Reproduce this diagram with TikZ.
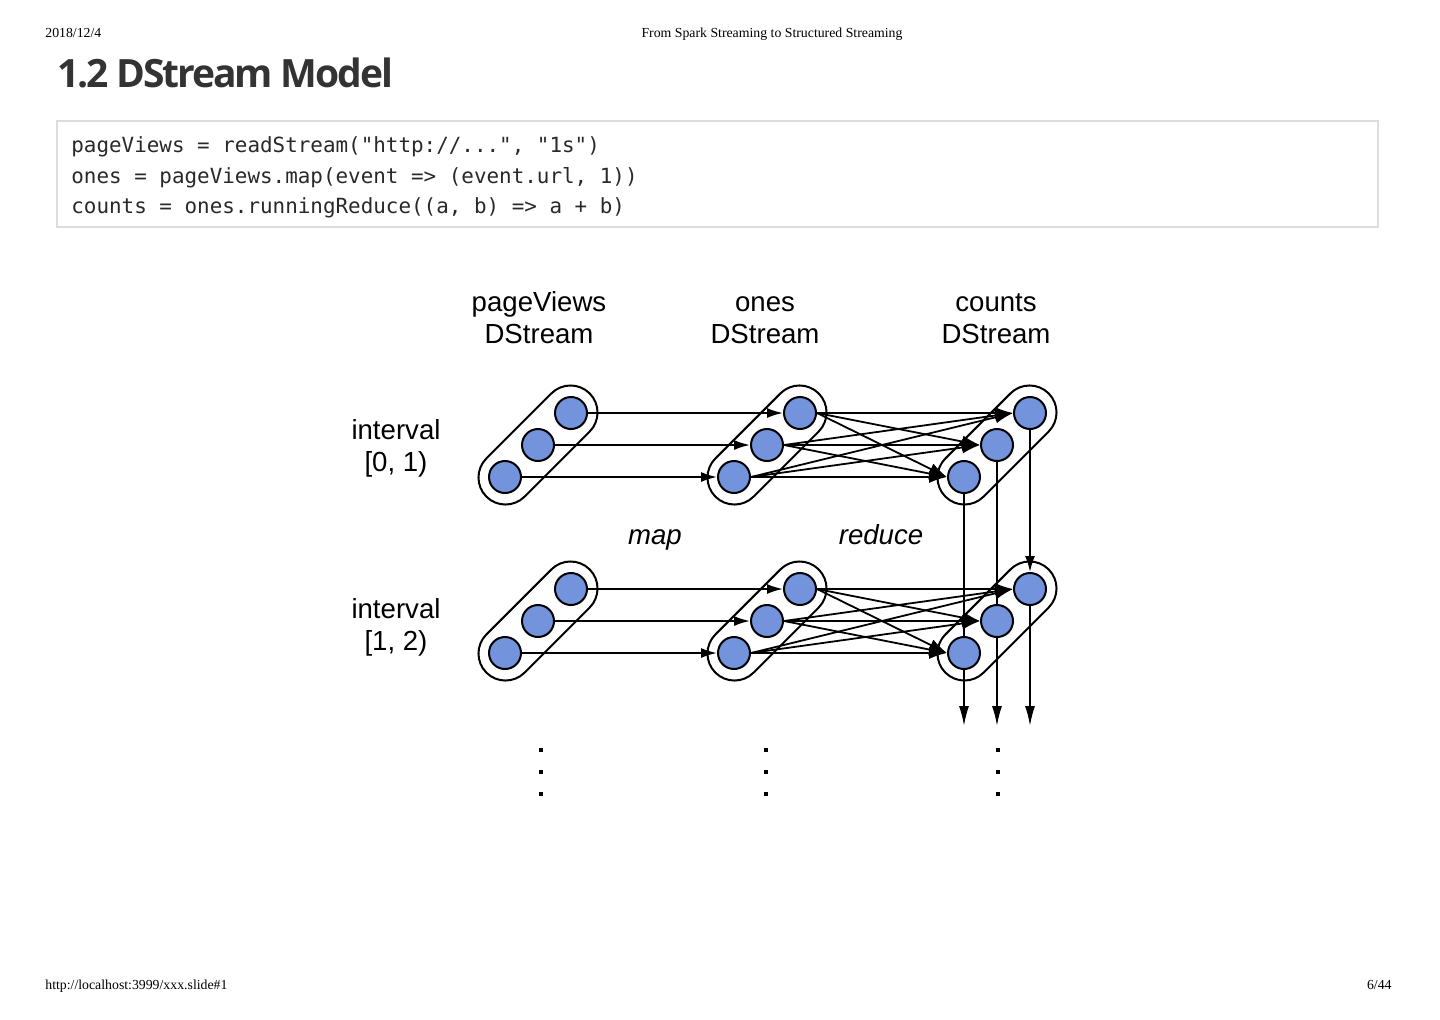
\documentclass[tikz,border=0pt]{standalone}
\usepackage{fontspec}
\setmainfont{Liberation Sans}
\newfontfamily\titlefont{Open Sans}[LetterSpace=-5.5]
\newfontfamily\codefont{DejaVu Sans Mono}
\newfontfamily\headfont{Liberation Serif}
\definecolor{dotblue}{RGB}{115, 147, 221}
\definecolor{titlegray}{RGB}{51, 51, 51}
\definecolor{boxgray}{RGB}{221, 221, 221}
\usetikzlibrary{arrows.meta, positioning, shapes.misc}

\begin{document}
\begin{tikzpicture}[x=0.5pt, y=-0.5pt,
    elem/.style={circle, draw, line width=1pt, fill=dotblue, minimum size=16pt, inner sep=0pt},
    stream/.style={rounded rectangle, draw, line width=1pt, fill=white, minimum width=73pt, minimum height=27pt, inner sep=0pt, rotate=45},
    streamtxt/.style={font=\fontsize{13.8}{16}\selectfont, align=center, inner sep=0pt},
    pagetxt/.style={font=\headfont\fontsize{6.9}{8}\selectfont, inner sep=0pt},
    flow/.style={line width=0.9pt, -{Latex[length=8pt, width=5pt]}},
    merge/.style={line width=0.9pt, -{Latex[length=9pt, width=6pt]}},
    down/.style={line width=0.9pt, -{Latex[length=10pt, width=5pt]}},
    dotmark/.style={rectangle, fill, minimum size=2.2pt, inner sep=0pt}]
    \useasboundingbox (0,0) rectangle (1440,1019);

    % Page header and footer
    \node[pagetxt, anchor=base west] (date) at (45,37) {2018/12/4};
    \node[pagetxt, anchor=base] (doctitle) at (772,37) {From Spark Streaming to Structured Streaming};
    \node[pagetxt, anchor=base west] (url) at (45,989) {http://localhost:3999/xxx.slide\#1};
    \node[pagetxt, anchor=base east] (pageno) at (1392,989) {6/44};

    % Slide title
    \node[anchor=base west, inner sep=0pt, text=titlegray, font=\titlefont\bfseries\fontsize{19.5}{22}\selectfont] (slidetitle) at (57,87) {1.2 DStream Model};

    % Code block
    \draw[boxgray, line width=0.6pt] (57,121) rectangle (1378,227);
    \foreach \n/\y/\code in {1/152/{pageViews = readStream("http://...", "1s")},
                             2/183/{ones = pageViews.map(event => (event.url, 1))},
                             3/213/{counts = ones.runningReduce((a, b) => a + b)}}
        \node[anchor=base west, inner sep=0pt, text=titlegray!80!black, font=\codefont\fontsize{10.45}{12}\selectfont] (code\n) at (71,\y) {\code};

    % Column and row labels
    \node[streamtxt] (pvtxt) at (539,321) {\strut pageViews\\\strut DStream};
    \node[streamtxt] (ontxt) at (765,321) {\strut ones\\\strut DStream};
    \node[streamtxt] (cttxt) at (996,321) {\strut counts\\\strut DStream};
    \node[streamtxt] (int0) at (396,449) {\strut interval\\\strut {[0, 1)}};
    \node[streamtxt] (int1) at (396,628) {\strut interval\\\strut {[1, 2)}};
    \node[streamtxt, anchor=base, font=\fontsize{13.8}{16}\selectfont\itshape] (maptxt) at (655,544) {map};
    \node[streamtxt, anchor=base, font=\fontsize{13.8}{16}\selectfont\itshape] (reducetxt) at (881,544) {reduce};

    % Streams: one capsule of three records per interval
    \foreach \r/\y in {0/477, 1/653}
      \foreach \c/\x in {pv/505, on/734, ct/964} {
        \node[stream] (\c\r) at (\x+33,\y-32) {};
        \foreach \k in {1,2,3}
          \node[elem] (\c\r-\k) at ({\x+33*(\k-1)},{\y-32*(\k-1)}) {};
      }

    % map and reduce
    \foreach \r in {0,1} {
      \foreach \k in {1,2,3}
        \draw[flow] (pv\r-\k.east) -- (on\r-\k.west);
      \foreach \i in {1,2,3}
        \foreach \j in {1,2,3}
          \draw[merge] (on\r-\i.east) -- (ct\r-\j.west);
    }

    % State carried to the next interval
    \draw[flow] (ct0-3.south) -- (ct1-3.north);
    \draw[line width=0.9pt] (ct0-2.south) -- (ct1-2.north);
    \draw[line width=0.9pt] (ct0-1.south) -- (ct1-1.north);
    \foreach \k/\x in {1/964, 2/997, 3/1030} {
      \coordinate (out-\k) at (\x,726);
      \draw[down] (ct1-\k.south) -- (out-\k);
    }

    % Continuation dots
    \foreach \x in {541, 766, 998}
      \foreach \y in {750, 772, 794}
        \node[dotmark] (dot-\x-\y) at (\x,\y) {};
\end{tikzpicture}
\end{document}
